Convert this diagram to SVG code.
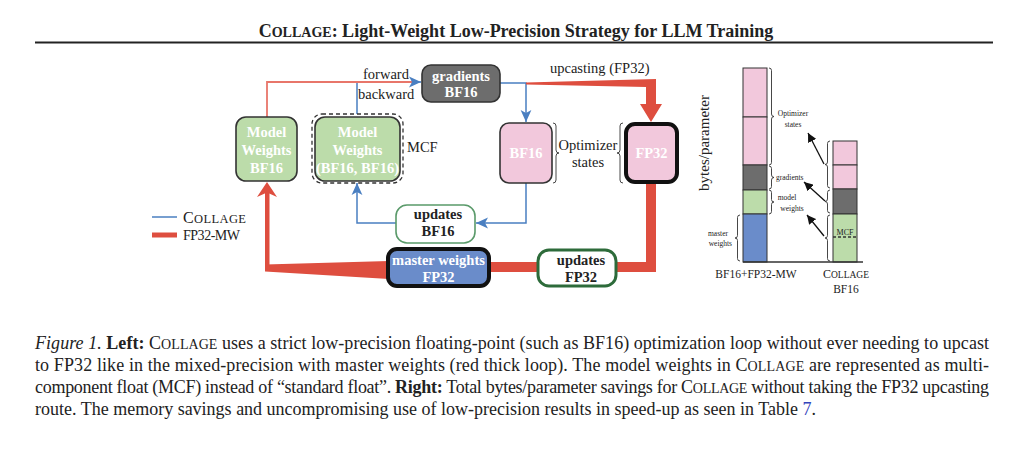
<svg xmlns="http://www.w3.org/2000/svg" width="1024" height="459" viewBox="0 0 1024 459">
<defs>
<style>
text{font-family:"Liberation Serif","Times New Roman",serif;fill:#222}
.bx{font-weight:bold;font-size:14.5px;text-anchor:middle;fill:#fff}
.bk{font-weight:bold;font-size:14.5px;text-anchor:middle;fill:#222}
.lb{font-size:14.5px}
.sm{font-size:7.5px}
.cap{font-size:18px}
.blue{stroke:#4a7fc1;stroke-width:1.5;fill:none}
.thin{stroke:#e8766a;stroke-width:1.8;fill:none}
.red{fill:#de4e3f}
.bar{stroke:#333;stroke-width:1}
.brace{fill:none;stroke:#333;stroke-width:0.9}
</style>
<marker id="ab" markerUnits="userSpaceOnUse" markerWidth="12" markerHeight="12" refX="10" refY="5" orient="auto" viewBox="0 0 10 10">
<path d="M0,0.5 L10,5 L0,9.5 L2.5,5 Z" fill="#4a7fc1"/>
</marker>
<marker id="ak" markerUnits="userSpaceOnUse" markerWidth="9" markerHeight="9" refX="10" refY="5" orient="auto" viewBox="0 0 10 10">
<path d="M0,0 L10,5 L0,10 Z" fill="#111"/>
</marker>
</defs>
<rect width="1024" height="459" fill="#fff"/>

<!-- header -->
<text x="516" y="37" text-anchor="middle" font-weight="bold" font-size="18">C<tspan font-size="14">OLLAGE</tspan>: Light-Weight Low-Precision Strategy for LLM Training</text>
<rect x="35" y="41.5" width="958" height="2" fill="#222"/>

<!-- connectors -->
<g id="connectors">
<path class="blue" d="M357,114 V82 H414"/>
<path class="thin" d="M267,117 V82 H413"/>
<path class="blue" d="M413,82 H421" marker-end="url(#ab)"/>
<path class="blue" d="M500,83 H526 V122" marker-end="url(#ab)"/>
<path class="blue" d="M526,183 V223 H476" marker-end="url(#ab)"/>
<path class="blue" d="M397,223 H357 V183" marker-end="url(#ab)"/>
<!-- red thick loop -->
<polygon class="red" points="526,82.5 656,79 656,104 662,104 651,122 640,104 646,104 646,87 526,84.5"/>
<rect class="red" x="646" y="183" width="10" height="89"/>
<rect class="red" x="615" y="262" width="41" height="10"/>
<rect class="red" x="488" y="262" width="51" height="10"/>
<polygon class="red" points="389,261 265,264.5 265,271.5 389,279"/>
<rect class="red" x="265" y="190" width="4.5" height="81"/>
<path class="red" d="M267,182 L277,197 L267,192.5 L257,197 Z"/>
<!-- chart arrows -->
<path d="M824,164 L808,133" stroke="#111" stroke-width="1.3" marker-end="url(#ak)"/>
<path d="M825,201 L804,182" stroke="#111" stroke-width="1.3" marker-end="url(#ak)"/>
<path d="M824,236 L807,215" stroke="#111" stroke-width="1.3" marker-end="url(#ak)"/>
</g>

<!-- nodes -->
<g id="mw-bf16">
<rect x="236" y="117" width="61" height="64" rx="10" fill="#bcdcaa" stroke="#333" stroke-width="1.6"/>
<text class="bx" x="266.5" y="137">Model</text>
<text class="bx" x="266.5" y="155">Weights</text>
<text class="bx" x="266.5" y="173">BF16</text>
</g>
<g id="mw-mcf">
<rect x="312" y="114" width="91" height="69" rx="10" fill="none" stroke="#333" stroke-width="1.3" stroke-dasharray="4,3"/>
<rect x="315" y="117" width="85" height="64" rx="10" fill="#bcdcaa" stroke="#333" stroke-width="1.6"/>
<text class="bx" x="357.5" y="137">Model</text>
<text class="bx" x="357.5" y="155">Weights</text>
<text class="bx" x="357.5" y="173">(BF16, BF16)</text>
<text class="lb" x="407" y="152">MCF</text>
</g>
<g id="gradients">
<rect x="422" y="65" width="78" height="37" rx="9" fill="#6d6d6d" stroke="#333" stroke-width="1.6"/>
<text class="bx" x="461" y="81">gradients</text>
<text class="bx" x="461" y="97">BF16</text>
</g>
<g id="labels">
<text class="lb" x="363" y="79">forward</text>
<text class="lb" x="358" y="99">backward</text>
<text class="lb" x="550" y="73">upcasting (FP32)</text>
</g>
<g id="opt-bf16">
<rect x="500" y="123" width="52" height="60" rx="9" fill="#f2c8dc" stroke="#333" stroke-width="1.6"/>
<text class="bx" x="526" y="158">BF16</text>
</g>
<g id="opt-states">
<path class="brace" d="M553 123 Q556 123 556 126 L556 150 Q556 153 559 153 Q556 153 556 156 L556 180 Q556 183 553 183"/>
<path class="brace" d="M623 123 Q620 123 620 126 L620 150 Q620 153 617 153 Q620 153 620 156 L620 180 Q620 183 623 183"/>
<text class="lb" x="588" y="150" text-anchor="middle">Optimizer</text>
<text class="lb" x="588" y="167" text-anchor="middle">states</text>
</g>
<g id="opt-fp32">
<rect x="626" y="124" width="51" height="58" rx="9" fill="#f2c8dc" stroke="#111" stroke-width="4"/>
<text class="bx" x="651.5" y="158">FP32</text>
</g>
<g id="updates-bf16">
<rect x="396" y="205" width="79" height="38" rx="11" fill="#fff" stroke="#5a9a6a" stroke-width="1.6"/>
<text class="bk" x="438" y="219">updates</text>
<text class="bk" x="438" y="236">BF16</text>
</g>
<g id="master-weights">
<rect x="388" y="249" width="101" height="37" rx="9" fill="#6a8cca" stroke="#111" stroke-width="4"/>
<text class="bx" x="438.5" y="265">master weights</text>
<text class="bx" x="438.5" y="282">FP32</text>
</g>
<g id="updates-fp32">
<rect x="538" y="250" width="78" height="36" rx="11" fill="#fff" stroke="#2d6b3a" stroke-width="3"/>
<text class="bk" x="581" y="265">updates</text>
<text class="bk" x="581" y="282">FP32</text>
</g>
<g id="legend">
<line x1="152" y1="217" x2="177" y2="217" stroke="#4a7fc1" stroke-width="1.5"/>
<text x="183" y="223" font-size="16" fill="#333" textLength="63">C<tspan font-size="12.5">OLLAGE</tspan></text>
<line x1="152" y1="235" x2="177" y2="235" stroke="#de4e3f" stroke-width="5"/>
<text x="183" y="240" font-size="14" fill="#333" textLength="57">FP32-MW</text>
</g>

<!-- right chart -->
<g id="chart">
<text x="709" y="143" font-size="15" text-anchor="middle" transform="rotate(-90 709 143)">bytes/parameter</text>
<rect class="bar" x="743" y="68" width="24" height="49" fill="#f2c8dc"/>
<rect class="bar" x="743" y="117" width="24" height="48" fill="#f2c8dc"/>
<rect class="bar" x="743" y="165" width="24" height="25" fill="#6d6d6d"/>
<rect class="bar" x="743" y="190" width="24" height="24" fill="#bcdcaa"/>
<rect class="bar" x="743" y="214" width="24" height="48" fill="#6a8cca"/>
<rect class="bar" x="833" y="141" width="24" height="24" fill="#f2c8dc"/>
<rect class="bar" x="833" y="165" width="24" height="24" fill="#f2c8dc"/>
<rect class="bar" x="833" y="189" width="24" height="25" fill="#6d6d6d"/>
<rect class="bar" x="833" y="214" width="24" height="48" fill="#bcdcaa"/>
<line x1="833" y1="237" x2="857" y2="237" stroke="#333" stroke-width="1.3" stroke-dasharray="3,2"/>
<text x="845" y="235" font-size="8" text-anchor="middle">MCF</text>
<line x1="743" y1="262" x2="863" y2="262" stroke="#333" stroke-width="1.3"/>
<path class="brace" d="M769 68 Q771.5 68 771.5 70.5 L771.5 114 Q771.5 116.5 774 116.5 Q771.5 116.5 771.5 119 L771.5 162.5 Q771.5 165 769 165"/>
<path class="brace" d="M769 166 Q771.5 166 771.5 168.5 L771.5 175 Q771.5 177.5 774 177.5 Q771.5 177.5 771.5 180 L771.5 186.5 Q771.5 189 769 189"/>
<path class="brace" d="M769 190 Q771.5 190 771.5 192.5 L771.5 199.5 Q771.5 202 774 202 Q771.5 202 771.5 204.5 L771.5 211.5 Q771.5 214 769 214"/>
<path class="brace" d="M740 215 Q737.5 215 737.5 217.5 L737.5 235.5 Q737.5 238 735 238 Q737.5 238 737.5 240.5 L737.5 258.5 Q737.5 261 740 261"/>
<path class="brace" d="M830 141 Q827.5 141 827.5 143.5 L827.5 162 Q827.5 164.5 825 164.5 Q827.5 164.5 827.5 167 L827.5 185.5 Q827.5 188 830 188"/>
<path class="brace" d="M830 190 Q827.5 190 827.5 192.5 L827.5 199 Q827.5 201.5 825 201.5 Q827.5 201.5 827.5 204 L827.5 210.5 Q827.5 213 830 213"/>
<path class="brace" d="M830 215 Q827.5 215 827.5 217.5 L827.5 235.5 Q827.5 238 825 238 Q827.5 238 827.5 240.5 L827.5 258.5 Q827.5 261 830 261"/>
<text class="sm" x="793" y="116" text-anchor="middle">Optimizer</text>
<text class="sm" x="793" y="127" text-anchor="middle">states</text>
<text class="sm" x="776" y="180">gradients</text>
<text class="sm" x="787" y="200" text-anchor="middle">model</text>
<text class="sm" x="792" y="211" text-anchor="middle">weights</text>
<text class="sm" x="728" y="236" text-anchor="end">master</text>
<text class="sm" x="732" y="246" text-anchor="end">weights</text>
<text x="756" y="278" font-size="11.5" text-anchor="middle">BF16+FP32-MW</text>
<text x="846" y="278" font-size="12" text-anchor="middle" fill="#333">C<tspan font-size="9.5">OLLAGE</tspan></text>
<text x="846" y="293" font-size="11.5" text-anchor="middle">BF16</text>
</g>

<!-- caption -->
<g id="caption" class="cap">
<text class="cap" x="35" y="349" textLength="954"><tspan font-style="italic">Figure 1.</tspan> <tspan font-weight="bold">Left:</tspan> C<tspan font-size="14">OLLAGE</tspan> uses a strict low-precision floating-point (such as BF16) optimization loop without ever needing to upcast</text>
<text class="cap" x="35" y="371" textLength="954">to FP32 like in the mixed-precision with master weights (red thick loop). The model weights in C<tspan font-size="14">OLLAGE</tspan> are represented as multi-</text>
<text class="cap" x="35" y="393" textLength="954">component float (MCF) instead of “standard float”. <tspan font-weight="bold">Right:</tspan> Total bytes/parameter savings for C<tspan font-size="14">OLLAGE</tspan> without taking the FP32 upcasting</text>
<text class="cap" x="35" y="415">route. The memory savings and uncompromising use of low-precision results in speed-up as seen in Table <tspan fill="#3344bb">7</tspan>.</text>
</g>
</svg>
